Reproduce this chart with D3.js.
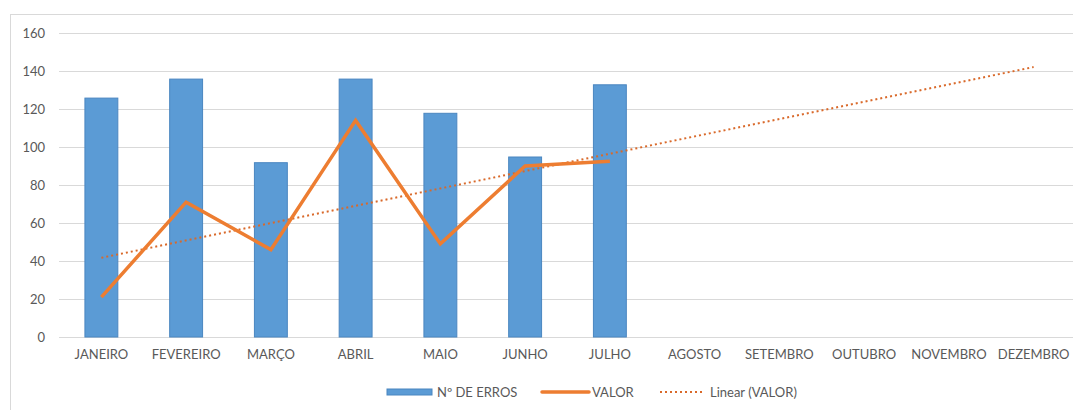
<!DOCTYPE html>
<html><head><meta charset="utf-8">
<script src="https://cdn.jsdelivr.net/npm/d3@7"></script>
<style>body{margin:0;background:#fff;} svg{display:block;} text{font-family:Lato,"Open Sans",sans-serif;fill:#595959;}</style>
</head><body><svg id="c" width="1073" height="410"></svg>
<script>
const months = ["JANEIRO","FEVEREIRO","MARÇO","ABRIL","MAIO","JUNHO","JULHO","AGOSTO","SETEMBRO","OUTUBRO","NOVEMBRO","DEZEMBRO"];
const erros = [126,136,92,136,118,95,133];
const valor = [21,71,46,114,49,90,92.5];
const yTicks = [0,20,40,60,80,100,120,140,160];
const legendLabels = ["Nº DE ERROS","VALOR","Linear (VALOR)"];

(function(){
const svg = d3.select("#c");
const pL = 59, pR = 1076, pT = 33, pB = 337;
const blue = "#5B9BD5", blueEdge = "#4A86C0", orange = "#ED7D31", grid = "#D9D9D9";

svg.append("rect").attr("x",10.5).attr("y",14.5).attr("width",1100).attr("height",500)
  .attr("fill","none").attr("stroke","#D9D9D9");

const x = d3.scaleBand().domain(months).range([pL,pR]).paddingInner(0.6).paddingOuter(0.3);
const xc = d => x(d) + x.bandwidth()/2;
const y = d3.scaleLinear().domain([0,160]).range([pB,pT]);

const yAxis = d3.axisLeft(y).tickValues(yTicks).tickSize(-(pR-pL)).tickPadding(14);
const gy = svg.append("g").attr("transform",`translate(${pL},0)`).call(yAxis);
gy.select(".domain").remove();
gy.selectAll(".tick line").attr("stroke",grid).attr("stroke-width",1);
gy.selectAll(".tick text").attr("font-size",13).attr("fill","#595959");

const xAxis = d3.axisBottom(x).tickSize(0).tickPadding(13);
const gx = svg.append("g").attr("transform",`translate(0,${pB})`).call(xAxis);
gx.select(".domain").attr("stroke",grid);
gx.selectAll(".tick text").attr("font-size",13).attr("fill","#595959");

svg.append("g").selectAll("rect").data(erros).join("rect")
  .attr("x",(d,i)=>x(months[i])+0.5)
  .attr("y",d=>y(d)+0.5)
  .attr("width",x.bandwidth()-1)
  .attr("height",d=>y(0)-y(d)-0.5)
  .attr("fill",blue).attr("stroke",blueEdge).attr("stroke-width",1);

const xs = valor.map((d,i)=>i+1);
const mx = d3.mean(xs), my = d3.mean(valor);
const slope = d3.sum(xs.map((xi,i)=>(xi-mx)*(valor[i]-my))) / d3.sum(xs.map(xi=>(xi-mx)*(xi-mx)));
const icpt = my - slope*mx;
const trend = [1,12].map(k=>[xc(months[k-1]), y(icpt+slope*k)]);
svg.append("path").attr("d",d3.line()(trend)).attr("fill","none")
  .attr("stroke","#D9692A").attr("stroke-width",2).attr("stroke-dasharray","2,3");

const line = d3.line().x((d,i)=>xc(months[i])).y(d=>y(d));
svg.append("path").datum(valor).attr("d",line).attr("fill","none")
  .attr("stroke",orange).attr("stroke-width",3.5).attr("stroke-linejoin","miter").attr("stroke-linecap","butt");

const lg = svg.append("g");
lg.append("rect").attr("x",387).attr("y",389).attr("width",45).attr("height",6)
  .attr("fill",blue).attr("stroke",blueEdge).attr("stroke-width",1);
lg.append("text").attr("x",437).attr("y",396.5).attr("font-size",13).text(legendLabels[0]);
lg.append("line").attr("x1",542).attr("x2",589).attr("y1",392).attr("y2",392)
  .attr("stroke",orange).attr("stroke-width",3.5).attr("stroke-linecap","round");
lg.append("text").attr("x",592).attr("y",396.5).attr("font-size",13).text(legendLabels[1]);
lg.append("line").attr("x1",660).attr("x2",703).attr("y1",392).attr("y2",392)
  .attr("stroke","#D9692A").attr("stroke-width",2).attr("stroke-dasharray","2,3");
lg.append("text").attr("x",710).attr("y",396.5).attr("font-size",13).text(legendLabels[2]);
})();
</script></body></html>
